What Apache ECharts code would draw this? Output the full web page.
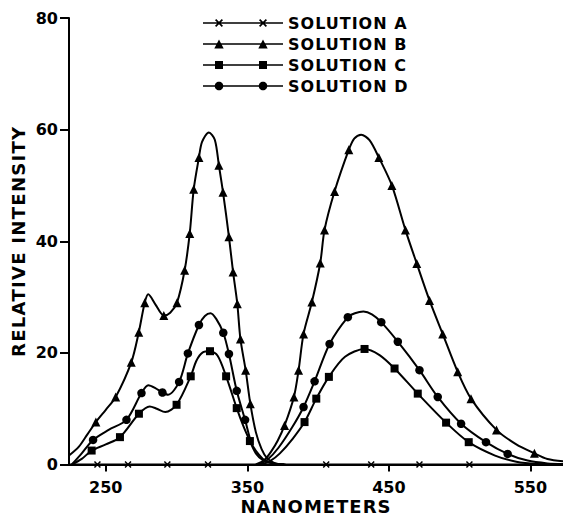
<!DOCTYPE html>
<html><head><meta charset="utf-8">
<script src="https://cdn.jsdelivr.net/npm/echarts@6/dist/echarts.min.js"></script>
<style>html,body{margin:0;padding:0;background:#fff}#c{width:563px;height:517px}</style>
</head><body><div id="c"></div>
<script>
// ---------- data ----------
const xTicks = [250, 350, 450, 550];
const seriesNames = ['SOLUTION A', 'SOLUTION B', 'SOLUTION C', 'SOLUTION D'];

// Solution A (x markers, flat at zero)
const aMarkNm  = [244.1, 265.7, 293.5, 322.2, 405.7, 437.5, 471.6, 506.9];
const aMarkVal = [0, 0, 0, 0, 0, 0, 0, 0];
const aCurveNm  = [224, 573];
const aCurveVal = [0, 0];

// Solution B excitation (triangles)
const bExMarkNm  = [243, 257, 268, 273.3, 277.5, 291, 300.3, 305.7, 309.3, 312.1, 315.8, 329.9, 332.8, 337, 339.9, 342.9, 345.1, 348.8, 352.1];
const bExMarkVal = [7.6, 12.1, 18.3, 23.7, 29, 26.7, 29, 34.8, 41.4, 49.3, 55, 53.6, 48.8, 40.8, 34.5, 28.8, 22.5, 16.9, 10.9];
const bExCurveNm  = [224, 231, 237, 250, 280, 285, 295.5, 318, 322.8, 327, 356, 360, 364, 369, 376];
const bExCurveVal = [1.6, 3.2, 5.4, 9.8, 30.5, 28.7, 27.2, 57.8, 59.5, 58.2, 5.8, 2.8, 1.1, 0.3, 0];

// Solution B emission (triangles)
const bEmMarkNm  = [376.3, 382.9, 386.2, 389.7, 395.6, 401.5, 404.5, 411.6, 421.7, 442.9, 452.1, 461.7, 469.7, 478.7, 488, 498.6, 508, 526, 552.8];
const bEmMarkVal = [7.0, 12.1, 16.9, 23.4, 29.1, 36.1, 42.0, 48.9, 56.4, 55, 50, 42, 36, 29.4, 23.4, 16.6, 11.8, 6.2, 2.0];
const bEmCurveNm  = [356, 362, 367, 371.5, 425.5, 430.4, 436.3, 540, 562, 573];
const bEmCurveVal = [0, 0.8, 2.4, 4.3, 58.4, 59.1, 58.1, 3.6, 1.0, 0.6];

// Solution C excitation (squares)
const cExMarkNm  = [240, 260, 273.4, 300, 310, 323.6, 335, 342.5, 351.8];
const cExMarkVal = [2.5, 4.9, 9.1, 10.7, 15.8, 20.3, 15.8, 10.1, 4.2];
const cExCurveNm  = [226, 233, 250, 281, 286, 292, 314, 318.5, 329, 347, 356, 361, 368, 376];
const cExCurveVal = [0, 1.0, 3.6, 10.4, 10.0, 9.4, 18.6, 20.1, 19.5, 7.0, 2.0, 0.8, 0.2, 0];

// Solution C emission (squares)
const cEmMarkNm  = [390.4, 398.7, 407.6, 432.8, 454, 470.4, 490.4, 506.4];
const cEmMarkVal = [7.6, 11.8, 15.7, 20.7, 17.2, 12.7, 7.5, 4.0];
const cEmCurveNm  = [360, 366, 373, 382, 419, 443.4, 525, 540, 555, 573];
const cEmCurveVal = [0, 0.6, 2.0, 4.6, 19.3, 19.6, 1.6, 0.5, 0.1, 0];

// Solution D excitation (circles)
const dExMarkNm  = [241, 264.6, 275.2, 290, 301.8, 308, 315.8, 333, 337, 342.5, 348.4];
const dExMarkVal = [4.4, 8.0, 12.8, 12.9, 14.8, 19.9, 25, 23.6, 19.8, 13.2, 8.0];
const dExCurveNm  = [226, 233, 252, 280, 285, 294, 320, 324, 328, 353, 358, 363, 370, 377];
const dExCurveVal = [0, 2.0, 6.2, 14.2, 13.7, 12.5, 26.6, 27.1, 26.1, 3.8, 1.8, 0.6, 0.1, 0];

// Solution D emission (circles)
const dEmMarkNm  = [389.7, 397.5, 408.1, 421, 444.6, 456.3, 471.6, 484.5, 501, 518.6, 533.9];
const dEmMarkVal = [10.3, 14.9, 21.6, 26.4, 25.5, 22, 16.9, 12.1, 7.3, 4.0, 1.9];
const dEmCurveNm  = [358, 364, 372, 382, 426, 432, 438, 548, 562, 573];
const dEmCurveVal = [0, 0.8, 3.0, 6.8, 27.1, 27.4, 26.9, 0.7, 0.2, 0.1];

// ---------- helpers ----------
function build(markNm, markVal, curveNm, curveVal) {
  const pts = [];
  markNm.forEach((x, i) => pts.push({ value: [x, markVal[i]] }));
  curveNm.forEach((x, i) => pts.push({ value: [x, curveVal[i]], symbol: 'none' }));
  pts.sort((a, b) => a.value[0] - b.value[0]);
  return pts;
}
const crossPath = 'path://M0,1.5L1.5,0L5,3.5L8.5,0L10,1.5L6.5,5L10,8.5L8.5,10L5,6.5L1.5,10L0,8.5L3.5,5Z';

function lineSeries(name, data, symbol, size) {
  return {
    type: 'line', name, data, symbol, symbolSize: size, showSymbol: true, showAllSymbol: true,
    smooth: 0.3, clip: false, animation: false, silent: true,
    lineStyle: { color: '#000', width: 2 }, itemStyle: { color: '#000' },
    emphasis: { disabled: true }
  };
}

// legend icon paths (line with two markers)
const base = 'M0,4.2H80V5.8H0Z';
function crossAt(cx) {
  const p = [[0,1.5],[1.5,0],[5,3.5],[8.5,0],[10,1.5],[6.5,5],[10,8.5],[8.5,10],[5,6.5],[1.5,10],[0,8.5],[3.5,5]];
  return 'M' + p.map(q => ((cx - 4 + q[0]*0.8).toFixed(2) + ',' + (1 + q[1]*0.8).toFixed(2))).join('L') + 'Z';
}
function triAt(cx) { return 'M' + cx + ',0.6L' + (cx+4.7) + ',9.4L' + (cx-4.7) + ',9.4Z'; }
function sqAt(cx) { return 'M' + (cx-4) + ',1H' + (cx+4) + 'V9H' + (cx-4) + 'Z'; }
function circAt(cx) {
  const pts = [];
  for (let k = 0; k < 24; k++) { const t = k / 24 * 2 * Math.PI; pts.push((cx + 4.3*Math.cos(t)).toFixed(2) + ',' + (5 + 4.3*Math.sin(t)).toFixed(2)); }
  return 'M' + pts.join('L') + 'Z';
}
const icons = [
  'path://' + base + crossAt(16) + crossAt(60),
  'path://' + base + triAt(16) + triAt(60),
  'path://' + base + sqAt(16) + sqAt(60),
  'path://' + base + circAt(16) + circAt(60)
];

const font = 'DejaVu Sans';
const chart = echarts.init(document.getElementById('c'), null, { renderer: 'svg' });
chart.setOption({
  animation: false,
  backgroundColor: '#fff',
  grid: { left: 69, right: 0, top: 18, bottom: 52.5, containLabel: false, outerBoundsMode: 'none' },
  legend: {
    orient: 'vertical', left: 203, top: 15, padding: 0, itemWidth: 80, itemHeight: 10, itemGap: 5,
    selectedMode: false,
    textStyle: { fontFamily: font, fontWeight: 'bold', fontSize: 16, color: '#000' },
    data: seriesNames.map((n, i) => ({ name: n, icon: icons[i] }))
  },
  xAxis: {
    type: 'value', min: 224, max: 573,
    axisLine: { show: true, onZero: false, lineStyle: { color: '#000', width: 2 } },
    axisTick: { show: true, customValues: xTicks, length: 7, lineStyle: { color: '#000', width: 2 } },
    axisLabel: { customValues: xTicks, margin: 15, color: '#000', fontFamily: font, fontWeight: 'bold', fontSize: 16, lineHeight: 16 },
    splitLine: { show: false },
    name: 'NANOMETERS', nameLocation: 'middle', nameGap: 33, nameMoveOverlap: false,
    nameTextStyle: { fontFamily: font, fontWeight: 'bold', fontSize: 18, color: '#000', lineHeight: 18 }
  },
  yAxis: {
    type: 'value', min: 0, max: 80, interval: 20,
    axisLine: { show: true, lineStyle: { color: '#000', width: 2 } },
    axisTick: { show: true, length: 9, lineStyle: { color: '#000', width: 2 } },
    axisLabel: { margin: 11, color: '#000', fontFamily: font, fontWeight: 'bold', fontSize: 16 },
    splitLine: { show: false },
    name: 'RELATIVE INTENSITY', nameLocation: 'middle', nameGap: 42, nameMoveOverlap: false,
    nameTextStyle: { fontFamily: font, fontWeight: 'bold', fontSize: 18, color: '#000' }
  },
  series: [
    lineSeries('SOLUTION A', build(aMarkNm, aMarkVal, aCurveNm, aCurveVal), crossPath, 7),
    lineSeries('SOLUTION B', build(bExMarkNm, bExMarkVal, bExCurveNm, bExCurveVal), 'triangle', 9),
    lineSeries('SOLUTION B', build(bEmMarkNm, bEmMarkVal, bEmCurveNm, bEmCurveVal), 'triangle', 9),
    lineSeries('SOLUTION C', build(cExMarkNm, cExMarkVal, cExCurveNm, cExCurveVal), 'rect', 8),
    lineSeries('SOLUTION C', build(cEmMarkNm, cEmMarkVal, cEmCurveNm, cEmCurveVal), 'rect', 8),
    lineSeries('SOLUTION D', build(dExMarkNm, dExMarkVal, dExCurveNm, dExCurveVal), 'circle', 8.5),
    lineSeries('SOLUTION D', build(dEmMarkNm, dEmMarkVal, dEmCurveNm, dEmCurveVal), 'circle', 8.5)
  ]
});

function spaceText() {
  document.querySelectorAll('#c text').forEach(t => {
    const s = t.textContent;
    if (s.indexOf('SOLUTION') === 0 || s === 'NANOMETERS') t.style.letterSpacing = '1px';
    else if (s === 'RELATIVE INTENSITY') t.style.letterSpacing = '1.3px';
  });
}
spaceText();
setTimeout(spaceText, 0);
chart.on('finished', spaceText);
</script>
</body></html>
